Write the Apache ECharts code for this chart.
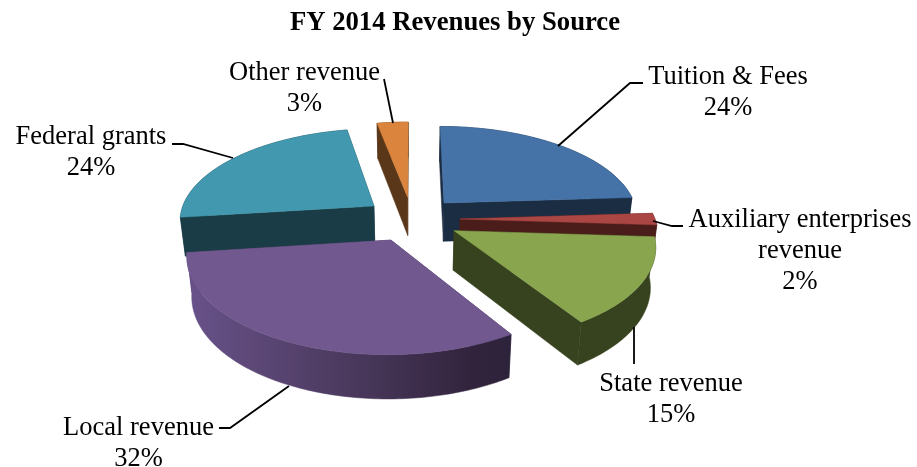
<!DOCTYPE html>
<html>
<head>
<meta charset="utf-8">
<style>
  html, body { margin: 0; padding: 0; background: #fff; }
  #main { width: 917px; height: 467px; }
</style>
<script src="https://cdn.jsdelivr.net/npm/echarts@6/dist/echarts.min.js"></script>
</head>
<body>
<div id="main"></div>
<script>
var chartTitle = 'FY 2014 Revenues by Source';
var categories = ['Tuition & Fees', 'Auxiliary enterprises\nrevenue', 'State revenue', 'Local revenue', 'Federal grants', 'Other revenue'];
var shares = [24, 2, 15, 32, 24, 3];

// excel 2007 palette, top face and side wall
var topColors = ['#4572A7', '#AA4643', '#89A54E', '#71588F', '#4198AF', '#DB843D'];
var wallColors = ['#1B2D43', '#4A1C1A', '#37431F', '#4A3A5C', '#1A3C46', '#5A3718'];

// where the labels sit: centre x, baseline y of the first line
var labelPos = [[728, 83], [800, 226], [671, 390], [138.5, 434], [91, 143], [304.5, 79]];
// leader lines
var leaders = [
  [[558, 146], [630, 83], [643, 83]],
  [[653, 221], [672, 226], [683, 226]],
  [[634, 327], [634, 364]],
  [[289, 386], [230, 428], [219, 428]],
  [[233, 158], [183, 144], [172, 144]],
  [[393, 123], [384, 79]]
];

// pie geometry, fitted by eye to the picture
var cx = 412, cy = 219, R = 195, explode = 48, tilt = 0.47, persp = 0.00073, H = 39, lowShrink = 0.00056;

function project(x, y, h) {
  var p = 1 / (1 + y * persp);
  var s = 1 - h * lowShrink;
  return [cx + x * p * s, cy - y * tilt * p * s + h * p];
}

function total() {
  return shares.reduce(function (a, b) { return a + b; }, 0);
}

function sliceAngles(i) {
  var before = 0;
  for (var k = 0; k < i; k++) before += shares[k];
  var a0 = before / total() * Math.PI * 2;
  var a1 = (before + shares[i]) / total() * Math.PI * 2;
  return [a0, a1];
}

function renderSlice(params, api) {
  var i = params.dataIndex;
  var ang = sliceAngles(i);
  var a0 = ang[0], a1 = ang[1];
  var mid = (a0 + a1) / 2;
  var ox = Math.sin(mid) * explode, oy = Math.cos(mid) * explode;

  var steps = Math.max(4, Math.ceil((a1 - a0) / (Math.PI / 180)));
  var topRim = [], lowRim = [];
  for (var s = 0; s <= steps; s++) {
    var a = a0 + (a1 - a0) * s / steps;
    var x = ox + Math.sin(a) * R, y = oy + Math.cos(a) * R;
    topRim.push(project(x, y, 0));
    lowRim.push(project(x, y, H));
  }
  var apexTop = project(ox, oy, 0), apexLow = project(ox, oy, H);

  // back slices first
  var rank = 100 - Math.round(Math.cos(mid) * 50);
  var wall = wallColors[i];
  // only the big front slice shows the lit gradient on its rim
  var rimFill = i === 3 ? new echarts.graphic.LinearGradient(0, 0, 1, 0, [
    { offset: 0, color: '#68528a' },
    { offset: 0.3, color: '#57436f' },
    { offset: 0.6, color: '#443455' },
    { offset: 0.88, color: '#32233d' },
    { offset: 1, color: '#2c233a' }
  ]) : wall;

  function poly(points, fill, z) {
    return { type: 'polygon', z2: rank * 10 + z, shape: { points: points }, style: { fill: fill, stroke: fill, lineWidth: 0.5 } };
  }

  return {
    type: 'group',
    children: [
      poly([apexTop, topRim[0], lowRim[0], apexLow], wall, 0),
      poly([apexTop, topRim[steps], lowRim[steps], apexLow], wall, 1),
      poly(topRim.concat(lowRim.slice().reverse()), rimFill, 2),
      poly([apexTop].concat(topRim), topColors[i], 3)
    ]
  };
}

var chart = echarts.init(document.getElementById('main'), null, { renderer: 'canvas' });

var graphics = [];
categories.forEach(function (name, i) {
  graphics.push({
    type: 'polyline',
    z: 5,
    shape: { points: leaders[i] },
    style: { stroke: '#000', lineWidth: 1.8, fill: null }
  });
  var lines = (name + '\n' + shares[i] + '%');
  graphics.push({
    type: 'text',
    z: 5,
    x: labelPos[i][0],
    y: labelPos[i][1] - 21,
    style: {
      text: lines,
      fill: '#000',
      font: '26.5px "Liberation Serif"',
      lineHeight: 31,
      align: 'center',
      verticalAlign: 'top'
    }
  });
});

chart.setOption({
  animation: false,
  backgroundColor: '#fff',
  title: {
    text: chartTitle,
    left: 450,
    top: 5,
    textAlign: 'center',
    textStyle: { fontFamily: 'Liberation Serif', fontWeight: 'bold', fontSize: 26.7, color: '#000' }
  },
  series: [{
    type: 'custom',
    coordinateSystem: 'none',
    renderItem: renderSlice,
    silent: true,
    data: shares
  }],
  graphic: { elements: graphics }
});
</script>
</body>
</html>
